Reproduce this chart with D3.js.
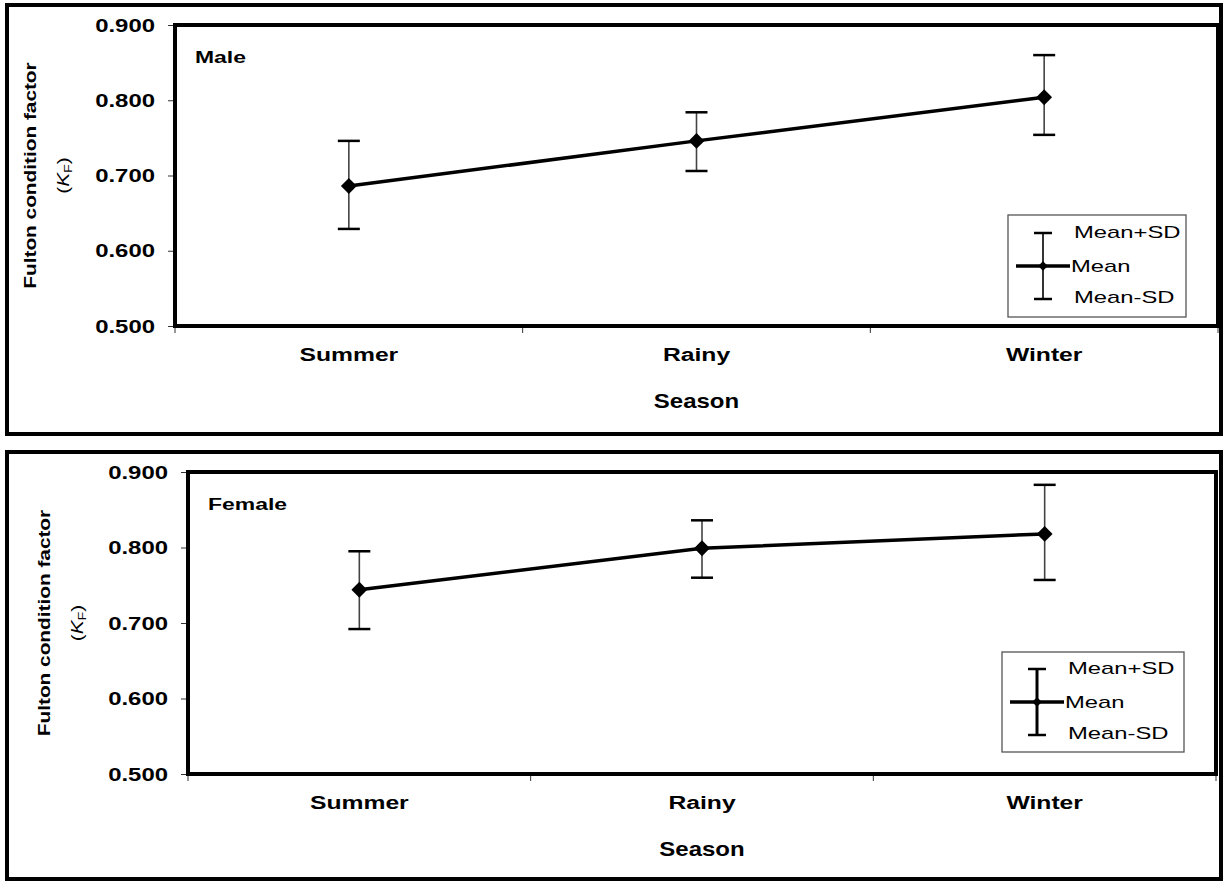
<!DOCTYPE html>
<html>
<head>
<meta charset="utf-8">
<script src="https://cdn.jsdelivr.net/npm/d3@7"></script>
<style>
  body { margin: 0; background: #fff; }
  text { font-family: "Liberation Sans", Arial, sans-serif; }
</style>
</head>
<body>
<script>
// data
var seasons = ["Summer", "Rainy", "Winter"];
var yTicks = [0.5, 0.6, 0.7, 0.8, 0.9];
var legendLabels = ["Mean+SD", "Mean", "Mean-SD"];

var maleMean  = [0.686, 0.746, 0.804];
var maleUpper = [0.746, 0.784, 0.860];
var maleLower = [0.629, 0.706, 0.754];

var femaleMean  = [0.744, 0.799, 0.818];
var femaleUpper = [0.795, 0.836, 0.883];
var femaleLower = [0.692, 0.760, 0.757];

var W = 1225, H = 882;

var svg = d3.select("body").append("svg")
  .attr("width", W).attr("height", H);

// text that is stretched wide, like the original Excel export
function wide_text(g, x, y, str, size, sx, bold, anchor) {
  return g.append("text")
    .attr("transform", "translate(" + x + "," + y + ") scale(" + sx + ",1)")
    .attr("text-anchor", anchor || "start")
    .style("font-size", size + "px")
    .style("font-weight", bold ? "bold" : "normal")
    .text(str);
}

// draw one panel
function draw_panel(p) {
  var g = svg.append("g");

  // outer frame
  g.append("rect")
    .attr("x", p.frame[0]).attr("y", p.frame[1])
    .attr("width", p.frame[2] - p.frame[0]).attr("height", p.frame[3] - p.frame[1])
    .style("fill", "none").style("stroke", "#000").style("stroke-width", 4);

  var x = d3.scalePoint().domain(seasons).range([p.left, p.right]).padding(0.5);
  var y = d3.scaleLinear().domain([0.5, 0.9]).range([p.bottom, p.top]);

  // y axis ticks (labels drawn by hand so they can be stretched)
  var yAxis = d3.axisLeft(y).tickValues(yTicks).tickFormat("").tickSize(7);
  var ya = g.append("g").attr("transform", "translate(" + p.left + ",0)").call(yAxis);
  ya.select(".domain").remove();
  ya.selectAll("line").style("stroke", "#333");
  yTicks.forEach(function(v){
    wide_text(g, p.left - 20, y(v) + 6.5, d3.format(".3f")(v), 18, 1.33, true, "end");
  });

  // x axis minor ticks between categories
  var step = (p.right - p.left) / seasons.length;
  var xt = d3.range(seasons.length + 1).map(function(i){ return p.left + i * step; });
  g.selectAll(".xtick").data(xt).enter().append("line")
    .attr("x1", function(d){ return d; }).attr("x2", function(d){ return d; })
    .attr("y1", p.bottom).attr("y2", p.bottom + 7)
    .style("stroke", "#333").style("stroke-width", 1);

  seasons.forEach(function(s){
    wide_text(g, x(s), p.bottom + 35, s, 19, 1.3, true, "middle");
  });

  // plot area border
  g.append("rect")
    .attr("x", p.left).attr("y", p.top)
    .attr("width", p.right - p.left).attr("height", p.bottom - p.top)
    .style("fill", "none").style("stroke", "#000").style("stroke-width", 4);

  // panel title
  wide_text(g, p.left + 20, p.top + 38, p.title, 17, 1.35, true, "start");

  // axis titles
  var yly = (p.top + p.bottom) / 2;
  var yl = g.append("text")
    .attr("transform", "translate(" + p.ylabX + "," + yly + ") rotate(-90) scale(1.3,1)")
    .attr("text-anchor", "middle")
    .style("font-size", "16px").style("font-weight", "bold");
  yl.append("tspan").attr("x", 0).attr("dy", 0).text("Fulton condition factor");
  var t2 = yl.append("tspan").attr("x", 0).attr("dy", 33).style("font-weight", "normal").text("(");
  t2.append("tspan").style("font-style", "italic").text("K");
  t2.append("tspan").style("font-size", "11px").attr("dy", 3).text("F");
  t2.append("tspan").attr("dy", -3).text(")");

  wide_text(g, x("Rainy"), p.bottom + 82, "Season", 20, 1.2, true, "middle");

  var idx = d3.range(seasons.length);

  // error bars
  g.selectAll(".err").data(idx).enter().append("line")
    .attr("x1", function(i){ return x(seasons[i]); }).attr("x2", function(i){ return x(seasons[i]); })
    .attr("y1", function(i){ return y(p.upper[i]); }).attr("y2", function(i){ return y(p.lower[i]); })
    .style("stroke", "#444").style("stroke-width", 1.6);
  var capw = 11;
  [p.upper, p.lower].forEach(function(arr){
    g.selectAll(null).data(idx).enter().append("line")
      .attr("x1", function(i){ return x(seasons[i]) - capw; }).attr("x2", function(i){ return x(seasons[i]) + capw; })
      .attr("y1", function(i){ return y(arr[i]); }).attr("y2", function(i){ return y(arr[i]); })
      .style("stroke", "#000").style("stroke-width", 2.5);
  });

  // mean line
  var line = d3.line().x(function(i){ return x(seasons[i]); }).y(function(i){ return y(p.mean[i]); });
  g.append("path").datum(idx).attr("d", line)
    .style("fill", "none").style("stroke", "#000").style("stroke-width", 3.5);

  // diamonds
  var sym = d3.symbol().type(d3.symbolDiamond2).size(160);
  g.selectAll(".pt").data(idx).enter().append("path")
    .attr("d", sym)
    .attr("transform", function(i){ return "translate(" + x(seasons[i]) + "," + y(p.mean[i]) + ")"; })
    .style("fill", "#000");

  // legend
  var L = p.legend;
  g.append("rect").attr("x", L.x).attr("y", L.y).attr("width", L.w).attr("height", L.h)
    .style("fill", "#fff").style("stroke", "#555").style("stroke-width", 1.3);
  var cx = L.x + 35, cy = L.y + L.h / 2;
  g.append("line").attr("x1", cx).attr("x2", cx).attr("y1", cy - 33).attr("y2", cy + 33)
    .style("stroke", "#000").style("stroke-width", L.vw);
  g.append("line").attr("x1", cx - 9).attr("x2", cx + 9).attr("y1", cy - 33).attr("y2", cy - 33)
    .style("stroke", "#000").style("stroke-width", 2.5);
  g.append("line").attr("x1", cx - 9).attr("x2", cx + 9).attr("y1", cy + 33).attr("y2", cy + 33)
    .style("stroke", "#000").style("stroke-width", 2.5);
  g.append("line").attr("x1", cx - 27).attr("x2", cx + 27).attr("y1", cy).attr("y2", cy)
    .style("stroke", "#000").style("stroke-width", 3.5);
  g.append("path").attr("d", d3.symbol().type(d3.symbolDiamond2).size(60))
    .attr("transform", "translate(" + cx + "," + cy + ")").style("fill", "#000");
  var ly = [-28, 6, 37];
  legendLabels.forEach(function(d, i){
    wide_text(g, i === 1 ? cx + 28 : cx + 31, cy + ly[i], d, 17, 1.4, false, "start");
  });
}

draw_panel({
  frame: [7, 5, 1221, 434],
  left: 175, right: 1218, top: 25, bottom: 326,
  title: "Male", ylabX: 36,
  mean: maleMean, upper: maleUpper, lower: maleLower,
  legend: { x: 1008, y: 215, w: 178, h: 102, vw: 1.6 }
});

draw_panel({
  frame: [7, 452, 1221, 879],
  left: 188, right: 1216, top: 472, bottom: 774,
  title: "Female", ylabX: 50,
  mean: femaleMean, upper: femaleUpper, lower: femaleLower,
  legend: { x: 1002, y: 652, w: 182, h: 100, vw: 3 }
});
</script>
</body>
</html>
